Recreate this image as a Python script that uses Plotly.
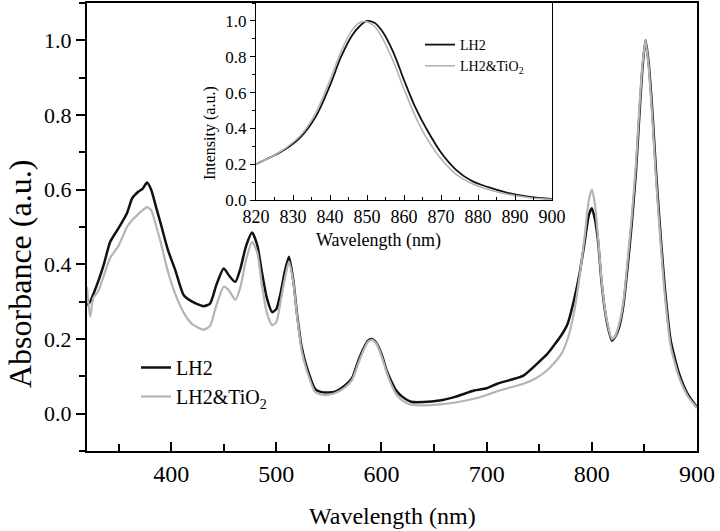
import plotly.graph_objects as go

# ---- main absorbance data ----
wavelength = [320, 323, 326, 331, 336, 342, 350, 358, 363, 369, 373, 377, 381, 386, 390, 397, 404, 412,
              420, 431, 437, 443, 450, 455, 461, 466, 471, 477, 482, 486, 491, 496, 500, 504, 508, 512,
              516, 520, 524, 529, 537, 545, 555, 565, 572, 578, 583, 587, 591, 595, 600, 605, 609, 614,
              620, 628, 640, 655, 670, 688, 700, 710, 722, 735, 748, 757, 764, 771, 777, 783, 788, 793,
              797, 800, 803, 806, 809, 812, 815, 819, 822, 826, 830, 834, 838, 842, 845, 848, 851, 854,
              858, 861, 864, 869, 875, 883, 891, 900]
abs_lh2 = [0.29, 0.30, 0.32, 0.357, 0.40, 0.46, 0.497, 0.537, 0.577, 0.595, 0.603, 0.619, 0.60, 0.55, 0.51,
           0.438, 0.384, 0.317, 0.30, 0.288, 0.295, 0.345, 0.389, 0.37, 0.353, 0.39, 0.447, 0.485, 0.45,
           0.384, 0.31, 0.272, 0.28, 0.322, 0.38, 0.42, 0.36, 0.26, 0.18, 0.124, 0.066, 0.057, 0.058,
           0.075, 0.095, 0.142, 0.175, 0.195, 0.20, 0.19, 0.16, 0.115, 0.089, 0.062, 0.045, 0.032, 0.031,
           0.035, 0.045, 0.062, 0.068, 0.08, 0.09, 0.102, 0.134, 0.158, 0.183, 0.21, 0.241, 0.304, 0.37,
           0.456, 0.53, 0.55, 0.52, 0.46, 0.36, 0.286, 0.235, 0.196, 0.205, 0.232, 0.29, 0.393, 0.51,
           0.65, 0.79, 0.92, 1.0, 0.94, 0.79, 0.65, 0.53, 0.35, 0.196, 0.107, 0.053, 0.017]
abs_lh2_tio2 = [0.34, 0.26, 0.31, 0.33, 0.37, 0.417, 0.45, 0.50, 0.519, 0.535, 0.545, 0.553, 0.545, 0.50,
                0.46, 0.38, 0.32, 0.27, 0.24, 0.225, 0.235, 0.29, 0.34, 0.33, 0.305, 0.34, 0.41, 0.46, 0.43,
                0.35, 0.27, 0.237, 0.245, 0.30, 0.36, 0.407, 0.355, 0.255, 0.17, 0.115, 0.058, 0.05, 0.054,
                0.07, 0.09, 0.135, 0.17, 0.192, 0.198, 0.188, 0.155, 0.11, 0.08, 0.052, 0.035, 0.024, 0.022,
                0.025, 0.03, 0.04, 0.05, 0.06, 0.07, 0.08, 0.097, 0.115, 0.135, 0.16, 0.2, 0.27, 0.36,
                0.47, 0.57, 0.60, 0.56, 0.47, 0.365, 0.29, 0.24, 0.2, 0.207, 0.24, 0.30, 0.41, 0.53,
                0.67, 0.81, 0.93, 1.0, 0.93, 0.77, 0.63, 0.51, 0.33, 0.18, 0.097, 0.048, 0.015]

# ---- inset emission data ----
wl_inset = [820, 824, 828, 832, 836, 840, 843, 846, 848, 850, 852, 854, 857, 860, 863, 866, 870, 874,
            878, 883, 888, 894, 900]
int_lh2 = [0.2, 0.24, 0.285, 0.35, 0.46, 0.64, 0.8, 0.92, 0.97, 1.0, 0.99, 0.946, 0.83, 0.67, 0.52, 0.40,
           0.265, 0.17, 0.11, 0.07, 0.04, 0.017, 0.006]
int_lh2_tio2 = [0.2, 0.24, 0.29, 0.36, 0.48, 0.67, 0.83, 0.95, 0.99, 0.995, 0.97, 0.91, 0.78, 0.62, 0.47,
                0.35, 0.23, 0.145, 0.095, 0.057, 0.032, 0.013, 0.004]

series_names = ["LH2", "LH2&amp;TiO<sub>2</sub>"]
FONT = "'Liberation Serif', 'Times New Roman', 'DejaVu Serif', serif"
BLACK = "#111111"
GRAY = "#b4b4b4"

fig = go.Figure()
fig.add_trace(go.Scatter(x=wavelength, y=abs_lh2, mode="lines", name=series_names[0],
                         line=dict(color=BLACK, width=2.5, shape="spline", smoothing=0.6),
                         xaxis="x", yaxis="y", legend="legend"))
fig.add_trace(go.Scatter(x=wavelength, y=abs_lh2_tio2, mode="lines", name=series_names[1],
                         line=dict(color=GRAY, width=2.2, shape="spline", smoothing=0.6),
                         xaxis="x", yaxis="y", legend="legend"))
fig.add_trace(go.Scatter(x=wl_inset, y=int_lh2, mode="lines", name=series_names[0],
                         line=dict(color=BLACK, width=1.8, shape="spline"),
                         xaxis="x2", yaxis="y2", legend="legend2"))
fig.add_trace(go.Scatter(x=wl_inset, y=int_lh2_tio2, mode="lines", name=series_names[1],
                         line=dict(color=GRAY, width=1.6, shape="spline"),
                         xaxis="x2", yaxis="y2", legend="legend2"))

W, H = 720, 531
def px(x): return x / W
def py(y): return (H - y) / H

axis_common = dict(showgrid=False, zeroline=False, linecolor="black", mirror=True,
                   tickcolor="black", showline=True, automargin=False)

def label(text, x, y, size, angle=0):
    return dict(text=text, x=px(x), y=py(y), xref="paper", yref="paper", showarrow=False,
                xanchor="center", yanchor="middle", textangle=angle,
                font=dict(size=size, family=FONT, color="black"))

fig.update_layout(
    template="none",
    width=W, height=H, margin=dict(l=0, r=0, t=0, b=0, pad=0), autosize=False,
    paper_bgcolor="white", plot_bgcolor="white",
    font=dict(family=FONT, color="black"),
    xaxis=dict(**axis_common, domain=[px(87), px(697)], range=[320, 900], anchor="y",
               linewidth=2, ticks="inside", ticklen=9, tickwidth=1.5, dtick=100, tick0=0,
               tickfont=dict(size=24, family=FONT),
               minor=dict(ticks="inside", ticklen=7, tickwidth=1.5, dtick=50, tick0=0, tickcolor="black")),
    yaxis=dict(**axis_common, domain=[py(451), py(3)], range=[-0.1, 1.1], anchor="x",
               linewidth=2, ticks="outside", ticklen=9, tickwidth=1.5, dtick=0.2, tick0=0,
               tickformat=".1f", tickfont=dict(size=22, family=FONT),
               minor=dict(ticks="outside", ticklen=6, tickwidth=1.5, dtick=0.1, tick0=0, tickcolor="black")),
    xaxis2=dict(**axis_common, domain=[px(256), px(552)], range=[820, 900], anchor="y2",
                linewidth=1.2, ticks="inside", ticklen=5, tickwidth=1, dtick=10, tick0=0,
                tickfont=dict(size=18, family=FONT),
                minor=dict(ticks="inside", ticklen=3, tickwidth=1, dtick=5, tick0=0, tickcolor="black")),
    yaxis2=dict(**axis_common, domain=[py(200), py(3)], range=[0, 1.1], anchor="x2",
                linewidth=1.2, ticks="outside", ticklen=5, tickwidth=1, dtick=0.2, tick0=0,
                tickformat=".1f", tickfont=dict(size=17, family=FONT),
                minor=dict(ticks="outside", ticklen=3, tickwidth=1, dtick=0.1, tick0=0, tickcolor="black")),
    legend=dict(x=px(136), y=py(348), xanchor="left", yanchor="top",
                bgcolor="rgba(0,0,0,0)", font=dict(size=20, family=FONT),
                itemwidth=30, tracegroupgap=0),
    legend2=dict(x=px(420), y=py(29), xanchor="left", yanchor="top",
                 bgcolor="rgba(0,0,0,0)", font=dict(size=14, family=FONT),
                 itemwidth=30, tracegroupgap=0),
    annotations=[
        label("Absorbance (a.u.)", 20, 274, 32, -90),
        label("Wavelength (nm)", 393, 516, 24),
        label("Intensity (a.u.)", 210, 133, 16, -90),
        label("Wavelength (nm)", 378, 240, 18),
    ],
)

fig.write_html("out.html", config={"displayModeBar": False},
               post_script="document.body.style.margin='0px';")
